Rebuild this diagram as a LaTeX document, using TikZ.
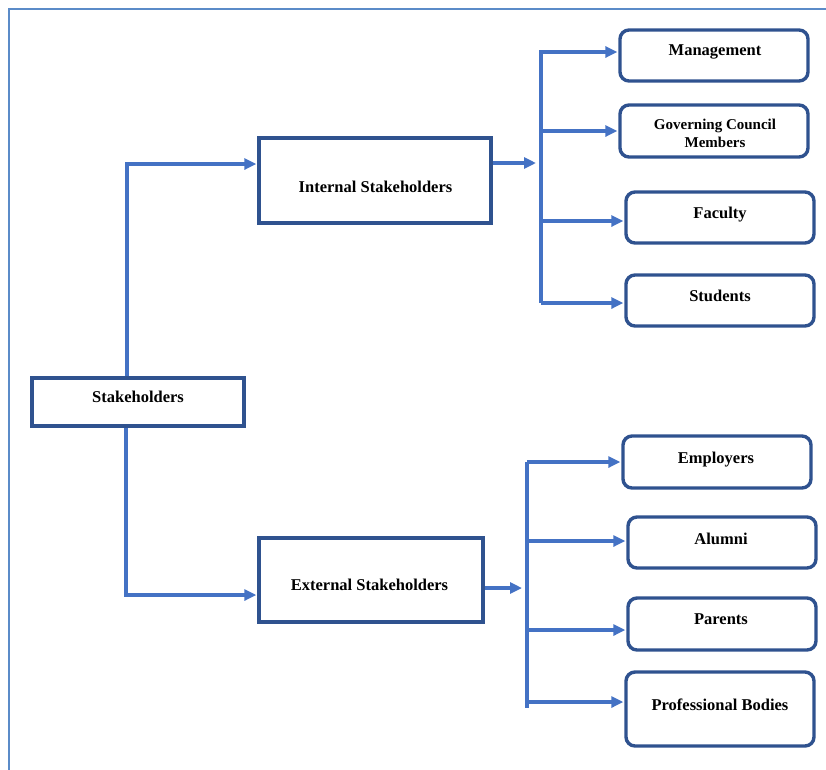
\documentclass[tikz,border=0pt]{standalone}
\usepackage{fontspec}
\setmainfont{Liberation Serif}
\usetikzlibrary{arrows.meta}

\definecolor{boxblue}{HTML}{2F528F}
\definecolor{linkblue}{HTML}{4472C4}
\definecolor{frameblue}{HTML}{5B8BC8}

\tikzset{
  sqbox/.style={draw=boxblue, line width=3.4pt, inner sep=0pt},
  rbox/.style={draw=boxblue, line width=3.4pt, rounded corners=9pt, inner sep=0pt,
               minimum width=188pt},
  txt/.style={font=\fontsize{16.5}{19}\selectfont\bfseries, inner sep=0pt, align=center},
  smalltxt/.style={font=\fontsize{15}{18}\selectfont\bfseries, inner sep=0pt, align=center},
  link/.style={draw=linkblue, line width=3.3pt},
  arr/.style={link, -{Triangle[length=12pt,width=11pt]}, shorten >=1pt},
}

\begin{document}
\begin{tikzpicture}[x=1pt,y=-1pt]
  \useasboundingbox (0,0) rectangle (826,769);

  % page frame
  \draw[frameblue, line width=1.7pt] (9,770) -- (9,9) -- (827,9);

  % main boxes
  \node[sqbox, minimum width=212pt, minimum height=48pt] (root) at (138,402) {};
  \node[sqbox, minimum width=232pt, minimum height=85pt] (int) at (375,180.5) {};
  \node[sqbox, minimum width=224pt, minimum height=84pt] (ext) at (371,580) {};

  \node[txt] (root-t) at (138,397) {Stakeholders};
  \node[txt] (int-t) at (375.5,187) {Internal Stakeholders};
  \node[txt] (ext-t) at (369.5,585) {External Stakeholders};

  % internal stakeholder groups
  \node[rbox, minimum height=51pt] (mgmt) at (714,55.5) {};
  \node[rbox, minimum height=52pt] (gcm) at (714,131) {};
  \node[rbox, minimum height=51pt] (fac) at (720,217.5) {};
  \node[rbox, minimum height=51pt] (stu) at (720,300.5) {};

  \node[txt] (mgmt-t) at (715,52) {Management};
  \node[smalltxt] (gcm-t) at (715,133) {Governing Council\\Members};
  \node[txt] (fac-t) at (720,215) {Faculty};
  \node[txt] (stu-t) at (720,296) {Students};

  % external stakeholder groups
  \node[rbox, minimum height=52pt] (emp) at (717,462) {};
  \node[rbox, minimum height=51pt] (alu) at (722,542.5) {};
  \node[rbox, minimum height=52pt] (par) at (722,624) {};
  \node[rbox, minimum height=74pt] (prof) at (720,709) {};

  \node[txt] (emp-t) at (716,460) {Employers};
  \node[txt] (alu-t) at (721,539) {Alumni};
  \node[txt] (par-t) at (721,619) {Parents};
  \node[txt] (prof-t) at (720,705) {Professional Bodies};

  % root to the two groups
  \draw[arr] ([xshift=-11pt]root.north) |- ([yshift=16.5pt]int.west);
  \draw[arr] ([xshift=-12pt]root.south) |- ([yshift=-15pt]ext.west);

  % internal bracket
  \coordinate (ij) at (541,163);
  \coordinate (i0) at (541,50);
  \coordinate (i1) at (541,52);
  \coordinate (i2) at (541,131);
  \coordinate (i3) at (541,221);
  \coordinate (i4) at (541,303);
  \draw[arr, shorten >=5pt] ([yshift=17.5pt]int.east) -- (ij);
  \draw[link] (i0) -- (i4);
  \draw[arr] (i1) -- (i1 -| mgmt.west);
  \draw[arr] (i2) -- (i2 -| gcm.west);
  \draw[arr] (i3) -- (i3 -| fac.west);
  \draw[arr] (i4) -- (i4 -| stu.west);

  % external bracket
  \coordinate (ej) at (527,588);
  \coordinate (e1) at (527,462);
  \coordinate (e2) at (527,541);
  \coordinate (e3) at (527,630);
  \coordinate (e4) at (527,702);
  \coordinate (e5) at (527,708);
  \draw[arr, shorten >=5pt] ([yshift=-8pt]ext.east) -- (ej);
  \draw[link] (e1) -- (e5);
  \draw[arr] (e1) -- (e1 -| emp.west);
  \draw[arr] (e2) -- (e2 -| alu.west);
  \draw[arr] (e3) -- (e3 -| par.west);
  \draw[arr] (e4) -- (e4 -| prof.west);
\end{tikzpicture}
\end{document}
